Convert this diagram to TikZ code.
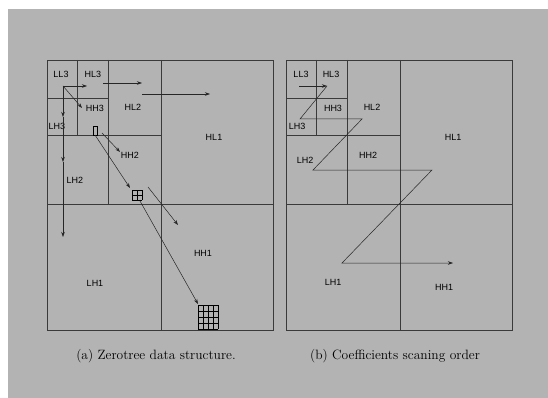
\documentclass[tikz,border=0pt]{standalone}
\usepackage{fontspec}
\newfontfamily\lblfont{Liberation Sans}
\usetikzlibrary{arrows.meta}
\definecolor{ztgray}{HTML}{B3B3B3}
\definecolor{ztline}{HTML}{3A3A3A}
\tikzset{
  zt/.style={
    x=1pt, y=-1pt,
    >={Stealth[length=5pt, width=3.5pt]},
    line width=0.5pt,
  },
  band/.style={draw=ztline, line width=0.9pt},
  sub/.style={font=\lblfont\fontsize{9}{10}\selectfont, inner sep=0pt},
  captext/.style={font=\fontsize{13.5}{15}\selectfont, inner sep=0pt},
  link/.style={->, draw=black!85, line width=0.5pt},
  scan/.style={draw=black!85, line width=0.5pt},
  cell/.style={draw=black, line width=0.7pt},
}

\begin{document}
\begin{tikzpicture}[zt]
  \useasboundingbox (0,0) rectangle (548,398);
  \fill[white] (0,0) rectangle (548,398);
  \fill[ztgray] (8,9) rectangle (548,398);

  % the two three-level decompositions
  \foreach \dx in {0,239} {
    \draw[band] (47+\dx,60) rectangle (273+\dx,330);
    \draw[band] (161+\dx,60) -- (161+\dx,330);
    \draw[band] (47+\dx,204) -- (273+\dx,204);
    \draw[band] (108+\dx,60) -- (108+\dx,204);
    \draw[band] (47+\dx,135) -- (161+\dx,135);
    \draw[band] (77+\dx,60) -- (77+\dx,135);
    \draw[band] (47+\dx,98) -- (108+\dx,98);
  }

  % (a) subband labels
  \node[sub] (a-ll3) at (61,74) {LL3};
  \node[sub] (a-hl3) at (93,74) {HL3};
  \node[sub] (a-lh3) at (57,126) {LH3};
  \node[sub] (a-hh3) at (95,108) {HH3};
  \node[sub] (a-hl2) at (133,107) {HL2};
  \node[sub] (a-lh2) at (75,180) {LH2};
  \node[sub] (a-hh2) at (130,155) {HH2};
  \node[sub] (a-hl1) at (214,137) {HL1};
  \node[sub] (a-lh1) at (95,283) {LH1};
  \node[sub] (a-hh1) at (203,253) {HH1};

  % (b) subband labels
  \node[sub] (b-ll3) at (301,74) {LL3};
  \node[sub] (b-hl3) at (331,74) {HL3};
  \node[sub] (b-lh3) at (297,126) {LH3};
  \node[sub] (b-hh3) at (333,108) {HH3};
  \node[sub] (b-hl2) at (372,107) {HL2};
  \node[sub] (b-lh2) at (305,160) {LH2};
  \node[sub] (b-hh2) at (368,155) {HH2};
  \node[sub] (b-hl1) at (453,137) {HL1};
  \node[sub] (b-lh1) at (333,282) {LH1};
  \node[sub] (b-hh1) at (444,287) {HH1};

  % (a) parent-child trees
  \coordinate (root) at (63,86);
  \coordinate (to-hl3) at (87,86);
  \coordinate (to-hh3) at (82,108);
  \coordinate (to-lh3) at (63,117);
  \coordinate (to-lh2) at (63,162);
  \coordinate (to-lh1) at (63,237);
  \draw[link] (root) -- (to-hl3);
  \draw[link] (root) -- (to-hh3);
  \draw[link] (root) -- (to-lh3);
  \draw[link] (to-lh3) -- (to-lh2);
  \draw[link] (to-lh2) -- (to-lh1);

  \coordinate (hl3-a) at (103,83);
  \coordinate (hl3-b) at (142,83);
  \coordinate (hl2-a) at (142,94);
  \coordinate (hl2-b) at (210,94);
  \draw[link] (hl3-a) -- (hl3-b);
  \draw[link] (hl2-a) -- (hl2-b);

  \draw[cell] (93,126) rectangle (97,135);
  \begin{scope}[shift={(132,190)}]
    \draw[cell] (0,0) grid[step=5pt] (10,10);
  \end{scope}
  \begin{scope}[shift={(198,305)}]
    \draw[cell] (0,0) grid[xstep=5pt, ystep=6pt] (20,24);
  \end{scope}

  \coordinate (px-a) at (102,133);
  \coordinate (px-b) at (120,152);
  \coordinate (px-c) at (95,135);
  \coordinate (px-d) at (130,188);
  \draw[link] (px-a) -- (px-b);
  \draw[link] (px-c) -- (px-d);

  \coordinate (q-a) at (140,201);
  \coordinate (q-b) at (198,304);
  \coordinate (q-c) at (148,187);
  \coordinate (q-d) at (178,225);
  \draw[link] (q-a) -- (q-b);
  \draw[link] (q-c) -- (q-d);

  % (b) scanning path
  \coordinate (s0) at (299,86);
  \coordinate (s1) at (327,86);
  \coordinate (s2) at (300,119);
  \coordinate (s3) at (362,119);
  \coordinate (s4) at (313,170);
  \coordinate (s5) at (432,170);
  \coordinate (s6) at (342,263);
  \coordinate (s7) at (453,263);
  \draw[scan, ->] (s0) -- (s1);
  \draw[scan, ->] (s1) -- (s2) -- (s3) -- (s4) -- (s5) -- (s6) -- (s7);

  % captions
  \node[captext] (cap-a) at (156,356) {(a) Zerotree data structure.};
  \node[captext] (cap-b) at (395,356) {(b) Coefficients scaning order};
\end{tikzpicture}
\end{document}
